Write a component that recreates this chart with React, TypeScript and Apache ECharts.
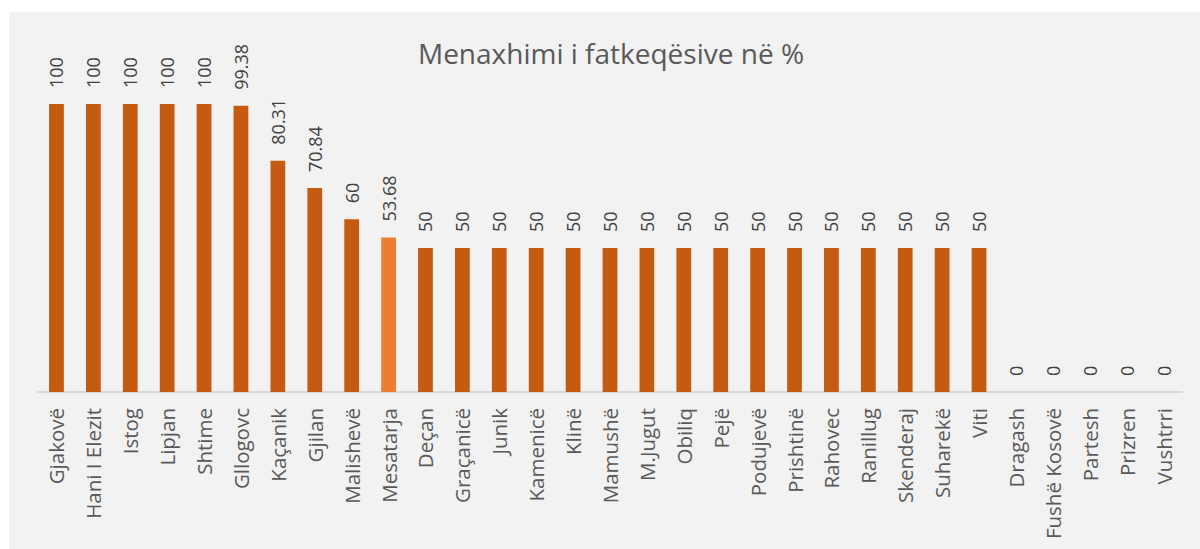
import React, { useEffect, useRef } from "react";
import * as echarts from "echarts";

const categories = [
  "Gjakovë", "Hani I Elezit", "Istog", "Lipjan", "Shtime", "Gllogovc", "Kaçanik", "Gjilan", "Malishevë", "Mesatarja",
  "Deçan", "Graçanicë", "Junik", "Kamenicë", "Klinë", "Mamushë", "M.Jugut", "Obiliq", "Pejë", "Podujevë",
  "Prishtinë", "Rahovec", "Ranillug", "Skenderaj", "Suharekë", "Viti", "Dragash", "Fushë Kosovë", "Partesh", "Prizren", "Vushtrri",
];
const values = [
  100, 100, 100, 100, 100, 99.38, 80.31, 70.84, 60, 53.68,
  50, 50, 50, 50, 50, 50, 50, 50, 50, 50,
  50, 50, 50, 50, 50, 50, 0, 0, 0, 0, 0,
];
const highlightCategory = "Mesatarja";
const titleText = "Menaxhimi i fatkeqësive në %";

export default function App() {
  const ref = useRef<HTMLDivElement>(null);
  useEffect(() => {
    if (!ref.current) return;
    const chart = echarts.init(ref.current, null, { renderer: "svg" });
    const font = "'Open Sans', 'Noto Sans', sans-serif";
    chart.setOption({
      animation: false,
      backgroundColor: "#ffffff",
      graphic: [
        {
          type: "rect",
          z: -10,
          shape: { x: 9, y: 12, width: 1191, height: 537 },
          style: { fill: "#F2F2F2" },
          silent: true,
        },
      ],
      title: {
        text: titleText,
        left: 606,
        textAlign: "center",
        top: 34,
        textStyle: { color: "#595959", fontSize: 28, fontWeight: "normal", fontFamily: font },
      },
      grid: { left: 38, right: 18, top: 104, bottom: 157, containLabel: false },
      xAxis: {
        type: "category",
        data: categories,
        axisLine: { lineStyle: { color: "#D9D9D9", width: 2 } },
        axisTick: { show: false },
        axisLabel: {
          rotate: 90,
          interval: 0,
          margin: 16,
          color: "#595959",
          fontSize: 20.5,
          fontFamily: font,
        },
      },
      yAxis: {
        type: "value",
        min: 0,
        max: 100,
        show: false,
        splitLine: { show: false },
      },
      series: [
        {
          type: "bar",
          barWidth: "40%",
          data: values.map((v, i) => ({
            value: v,
            itemStyle: { color: categories[i] === highlightCategory ? "#ED7D31" : "#C55A11" },
          })),
          label: {
            show: true,
            position: "top",
            rotate: 90,
            align: "left",
            verticalAlign: "middle",
            distance: 16,
            color: "#404040",
            fontSize: 18,
            fontFamily: font,
          },
        },
      ],
    });
    return () => chart.dispose();
  }, []);
  return <div ref={ref} style={{ position: "fixed", left: 0, top: 0, width: 1200, height: 549 }} />;
}
